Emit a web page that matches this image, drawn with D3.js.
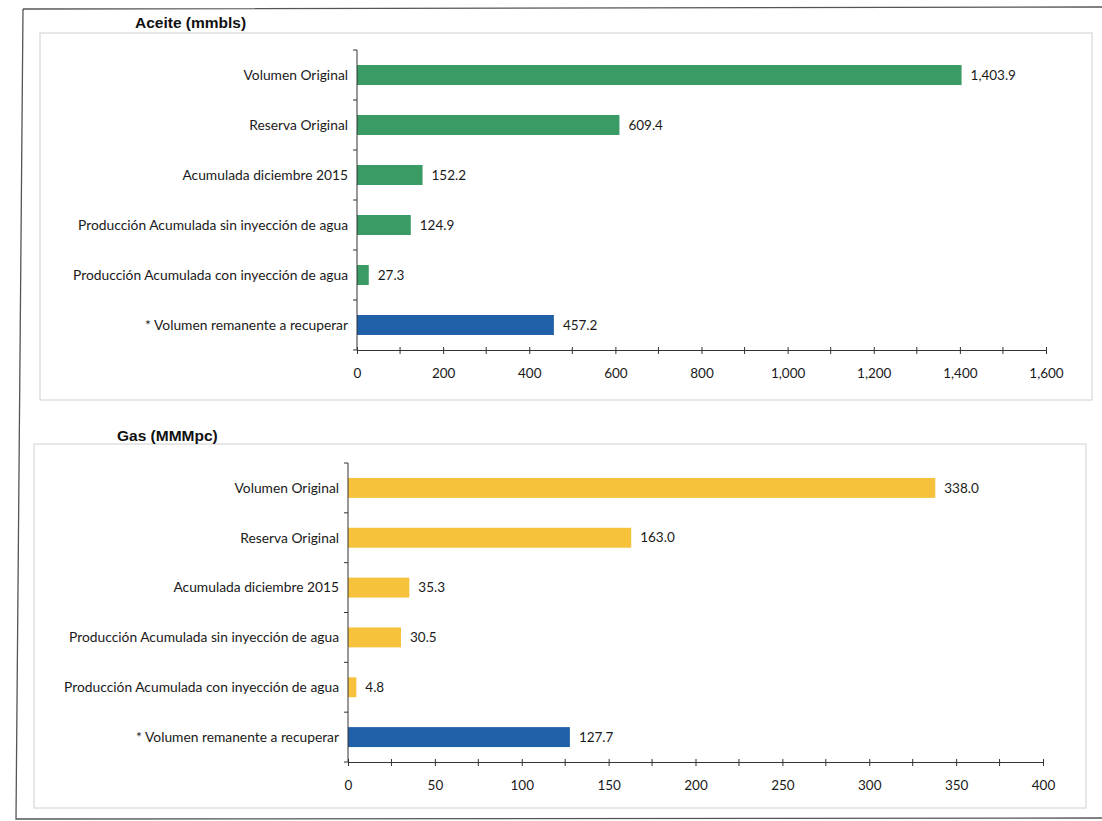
<!DOCTYPE html>
<html>
<head>
<meta charset="utf-8">
<script src="https://cdn.jsdelivr.net/npm/d3@7"></script>
<style>
  html, body { margin: 0; padding: 0; background: #ffffff; }
  svg { display: block; }
  .cat { font-family: Lato, "Open Sans", sans-serif; font-size: 13.8px; fill: #1a1a1a; }
  .val { font-family: Lato, "Open Sans", sans-serif; font-size: 13.5px; fill: #1a1a1a; }
  .tick text { font-family: Lato, "Open Sans", sans-serif; font-size: 13.5px; fill: #1a1a1a; }
  .title { font-family: "Liberation Sans", Arial, sans-serif; font-size: 15.5px; font-weight: bold; fill: #111; }
</style>
</head>
<body>
<svg id="chart" width="1102" height="821"></svg>
<script>
// Categories (top to bottom)
const categories = [
  "Volumen Original",
  "Reserva Original",
  "Acumulada diciembre 2015",
  "Producción Acumulada sin inyección de agua",
  "Producción Acumulada con inyección de agua",
  "* Volumen remanente a recuperar"
];

// Oil volumes (mmbls)
const oilValues = [1403.9, 609.4, 152.2, 124.9, 27.3, 457.2];
// Gas volumes (MMMpc)
const gasValues = [338.0, 163.0, 35.3, 30.5, 4.8, 127.7];

// Axis ticks
const oilTicks = [0, 200, 400, 600, 800, 1000, 1200, 1400, 1600];
const oilMinorTicks = d3.range(0, 1601, 100);
const gasTicks = [0, 50, 100, 150, 200, 250, 300, 350, 400];
const gasMinorTicks = d3.range(0, 401, 25);

const titles = ["Aceite (mmbls)", "Gas (MMMpc)"];

const oilColor = "#3a9b65";
const gasColor = "#f6c23c";
const remainColor = "#1f60a8";

const svg = d3.select("#chart");

// Page frame
svg.append("path")
  .attr("d", "M23,9 L1102,7 M23,9 L16,819 L1102,818")
  .attr("fill", "none").attr("stroke", "#555").attr("stroke-width", 1.3);

function drawPanel(cfg) {
  // panel box
  svg.append("rect")
    .attr("x", cfg.box[0]).attr("y", cfg.box[1])
    .attr("width", cfg.box[2]).attr("height", cfg.box[3])
    .attr("fill", "#fff").attr("stroke", "#d0d0d0").attr("stroke-width", 1);

  svg.append("text").attr("class", "title")
    .attr("x", cfg.titleX).attr("y", cfg.titleY)
    .text(cfg.title);

  const x = d3.scaleLinear().domain(cfg.domain).range([cfg.x0, cfg.x1]);
  const y = d3.scaleBand().domain(categories).range([cfg.yTop, cfg.yBottom]).paddingInner(0.6).paddingOuter(0.3);

  const g = svg.append("g");

  // bars
  g.selectAll("rect.bar").data(cfg.values).enter().append("rect")
    .attr("class", "bar")
    .attr("x", x(0))
    .attr("y", (d, i) => y(categories[i]))
    .attr("width", d => x(d) - x(0))
    .attr("height", y.bandwidth())
    .attr("fill", (d, i) => i === categories.length - 1 ? remainColor : cfg.color);

  // value labels
  g.selectAll("text.val").data(cfg.values).enter().append("text")
    .attr("class", "val")
    .attr("x", d => x(d) + 9)
    .attr("y", (d, i) => y(categories[i]) + y.bandwidth() / 2)
    .attr("dy", "0.35em")
    .text(d => d3.format(",.1f")(d));

  // category labels
  g.selectAll("text.cat").data(categories).enter().append("text")
    .attr("class", "cat")
    .attr("x", x(0) - 9)
    .attr("y", d => y(d) + y.bandwidth() / 2)
    .attr("dy", "0.35em")
    .attr("text-anchor", "end")
    .text(d => d);

  // vertical axis line with ticks at band boundaries
  const bounds = d3.range(categories.length + 1).map(i => cfg.yTop + i * (cfg.yBottom - cfg.yTop) / categories.length);
  g.append("line")
    .attr("x1", x(0)).attr("x2", x(0))
    .attr("y1", cfg.yTop).attr("y2", cfg.yBottom)
    .attr("stroke", "#333").attr("stroke-width", 1);
  g.selectAll("line.ytick").data(bounds).enter().append("line")
    .attr("x1", x(0) - 4).attr("x2", x(0))
    .attr("y1", d => d).attr("y2", d => d)
    .attr("stroke", "#333");

  // horizontal axis
  const axis = d3.axisBottom(x)
    .tickValues(cfg.ticks)
    .tickFormat(d3.format(","))
    .tickSize(4)
    .tickPadding(14);
  const ag = g.append("g")
    .attr("transform", `translate(0,${cfg.yBottom})`)
    .call(axis);
  ag.select(".domain").attr("stroke", "#333");
  ag.selectAll(".tick line").attr("stroke", "#333").attr("y1", -3).attr("y2", 4);

  g.selectAll("line.minor").data(cfg.minor.filter(v => !cfg.ticks.includes(v))).enter().append("line")
    .attr("x1", d => x(d)).attr("x2", d => x(d))
    .attr("y1", cfg.yBottom - 3).attr("y2", cfg.yBottom + 4)
    .attr("stroke", "#333");
}

drawPanel({
  box: [40, 33, 1052, 367],
  title: titles[0], titleX: 135, titleY: 28,
  domain: [0, 1600], x0: 357, x1: 1046,
  yTop: 50, yBottom: 350,
  values: oilValues, color: oilColor,
  ticks: oilTicks, minor: oilMinorTicks
});

drawPanel({
  box: [34, 444, 1052, 364],
  title: titles[1], titleX: 117, titleY: 441,
  domain: [0, 400], x0: 348, x1: 1043,
  yTop: 463, yBottom: 762,
  values: gasValues, color: gasColor,
  ticks: gasTicks, minor: gasMinorTicks
});
</script>
</body>
</html>
